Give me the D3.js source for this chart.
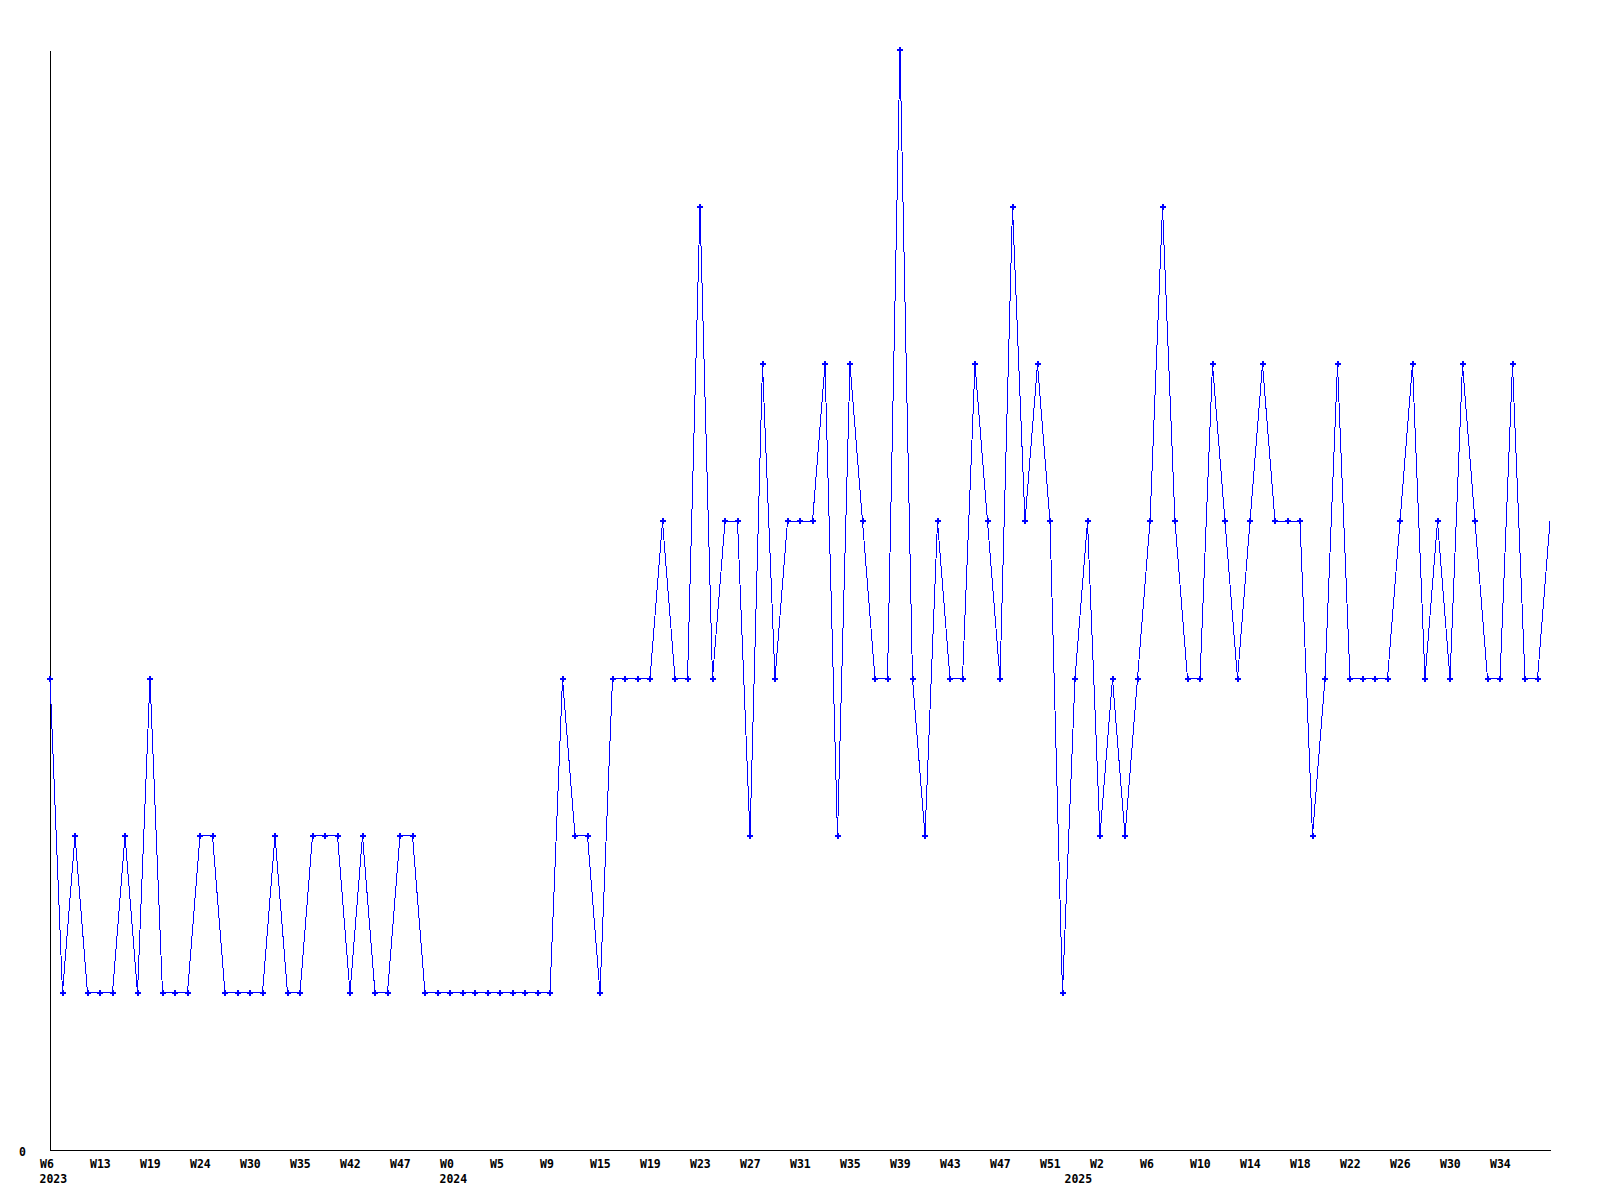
<!DOCTYPE html>
<html>
<head>
<meta charset="utf-8">
<script src="https://cdn.jsdelivr.net/npm/d3@7"></script>
<style>
    body { margin: 0; background: #ffffff; }
    svg { display: block; }
    text { font-family: "DejaVu Sans Mono", "Liberation Mono", monospace; font-weight: bold; font-size: 11.5px; fill: #000000; }
</style>
</head>
<body>
<svg id="chart"></svg>
<script>
// weekly values, one per point, left to right
const values = [
    3, 1, 2, 1, 1, 1, 2, 1, 3, 1,
    1, 1, 2, 2, 1, 1, 1, 1, 2, 1,
    1, 2, 2, 2, 1, 2, 1, 1, 2, 2,
    1, 1, 1, 1, 1, 1, 1, 1, 1, 1,
    1, 3, 2, 2, 1, 3, 3, 3, 3, 4,
    3, 3, 6, 3, 4, 4, 2, 5, 3, 4,
    4, 4, 5, 2, 5, 4, 3, 3, 7, 3,
    2, 4, 3, 3, 5, 4, 3, 6, 4, 5,
    4, 1, 3, 4, 2, 3, 2, 3, 4, 6,
    4, 3, 3, 5, 4, 3, 4, 5, 4, 4,
    4, 2, 3, 5, 3, 3, 3, 3, 4, 5,
    3, 4, 3, 5, 4, 3, 3, 5, 3, 3,
    4
];

// a week label on every 4th point
const tickLabels = ["W6", "W13", "W19", "W24", "W30", "W35", "W42", "W47", "W0", "W5",
    "W9", "W15", "W19", "W23", "W27", "W31", "W35", "W39", "W43", "W47",
    "W51", "W2", "W6", "W10", "W14", "W18", "W22", "W26", "W30", "W34"];
const tickEvery = 4;

const years = ["2023", "2024", "2025"];
const yearStart = [0, 32, 82];

const yMax = 7;

function create_chart() {
    let width = 1600;
    let height = 1200;
    let left = 50, right = 1550, top = 50, bottom = 1150;

    let svg = d3.select("#chart")
        .attr("width", width)
        .attr("height", height);

    let x = d3.scaleLinear()
        .domain([0, values.length - 1])
        .range([left, right]);

    let y = d3.scaleLinear()
        .domain([0, yMax])
        .range([bottom, top]);

    // x axis, labels hang left of their point
    let tickIdx = tickLabels.map(function (d, i) { return i * tickEvery; });
    let xAxis = svg.append("g")
        .attr("transform", "translate(0," + bottom + ")")
        .call(d3.axisBottom(x)
            .tickValues(tickIdx)
            .tickFormat(function (d, i) { return tickLabels[i]; })
            .tickSize(0)
            .tickSizeOuter(0));
    xAxis.attr("font-family", null).attr("font-size", null);
    xAxis.select(".domain").attr("stroke", "#000").attr("shape-rendering", "crispEdges");
    xAxis.selectAll("text")
        .attr("text-anchor", "start")
        .attr("x", -10.5)
        .attr("y", 18)
        .attr("dy", null);

    svg.append("g")
        .selectAll("text")
        .data(years)
        .enter().append("text")
        .attr("x", function (d, i) { return x(yearStart[i]) - 10.5; })
        .attr("y", bottom + 33)
        .text(function (d) { return d; });

    // y axis, only the zero label
    let yAxis = svg.append("g")
        .attr("transform", "translate(" + left + ",0)")
        .call(d3.axisLeft(y)
            .tickValues([0])
            .tickFormat(d3.format("d"))
            .tickSize(0)
            .tickSizeOuter(0)
            .tickPadding(24));
    yAxis.attr("font-family", null).attr("font-size", null);
    yAxis.select(".domain").attr("stroke", "#000").attr("shape-rendering", "crispEdges");
    yAxis.selectAll("text").attr("dy", "0.45em");

    let line = d3.line()
        .x(function (d, i) { return x(i); })
        .y(function (d) { return y(d); });

    svg.append("path")
        .datum(values)
        .attr("fill", "none")
        .attr("stroke", "#0000ff")
        .attr("stroke-width", 1)
        .attr("shape-rendering", "crispEdges")
        .attr("d", line);

    // markers, the last point sits on the frame edge and has none
    svg.append("g")
        .selectAll("path")
        .data(values.slice(0, -1))
        .enter().append("path")
        .attr("d", d3.symbol().type(d3.symbolCross).size(20))
        .attr("fill", "#0000ff")
        .attr("shape-rendering", "crispEdges")
        .attr("transform", function (d, i) {
            return "translate(" + x(i) + "," + y(d) + ")";
        });
}

create_chart();
</script>
</body>
</html>
